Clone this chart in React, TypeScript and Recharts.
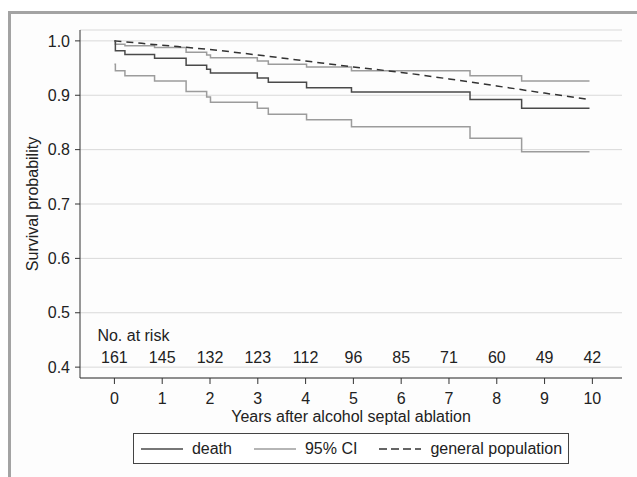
import React from 'react';
import {
  LineChart,
  Line,
  XAxis,
  YAxis,
  CartesianGrid,
  Legend,
  Label,
} from 'recharts';

// years shown on the axis and patients still at risk at each one
const years = [0, 1, 2, 3, 4, 5, 6, 7, 8, 9, 10];
const atRisk = [161, 145, 132, 123, 112, 96, 85, 71, 60, 49, 42];
const yTicks = [0.4, 0.5, 0.6, 0.7, 0.8, 0.9, 1.0];

// Kaplan-Meier steps (event times)
const kmTimes = [0, 0.02, 0.22, 0.84, 1.5, 1.93, 2.01, 2.99, 3.22, 4.02, 4.96, 7.44, 8.52, 9.94];
const deathSurv = [1.0, 0.982, 0.975, 0.968, 0.955, 0.948, 0.941, 0.9315, 0.924, 0.914, 0.906, 0.892, 0.876, 0.876];
const upperCI = [1.0, 0.994, 0.991, 0.988, 0.979, 0.974, 0.969, 0.963, 0.957, 0.952, 0.945, 0.936, 0.926, 0.926];
const lowerCI = [0.957, 0.945, 0.936, 0.926, 0.907, 0.897, 0.887, 0.876, 0.865, 0.855, 0.842, 0.821, 0.796, 0.796];

// expected survival of the general population
const popTimes = [0, 1, 2, 3, 4, 5, 6, 7, 8, 9, 9.94];
const popSurv = [1.0, 0.992, 0.984, 0.974, 0.963, 0.952, 0.942, 0.93, 0.917, 0.904, 0.892];

const FONT = '"Liberation Sans", Arial, sans-serif';
const FS = 16;
const DARK = '#4a4a4a';
const LIGHT = '#9c9c9c';

const deathData = kmTimes.map((t, i) => ({ t, s: deathSurv[i] }));
const upperData = kmTimes.map((t, i) => ({ t, s: upperCI[i] }));
const lowerData = kmTimes.map((t, i) => ({ t, s: lowerCI[i] }));
const popData = popTimes.map((t, i) => ({ t, s: popSurv[i] }));

const XTick = (props: any) => {
  const { x, y, payload } = props;
  const idx = years.indexOf(payload.value);
  return (
    <g style={{ fontFamily: FONT, fontSize: FS }} fill="#222">
      {idx === 0 && (
        <text x={x - 17} y={y - 63} dy="0.71em" textAnchor="start">
          No. at risk
        </text>
      )}
      {idx >= 0 && (
        <text x={x} y={y - 41} dy="0.71em" textAnchor="middle">
          {atRisk[idx]}
        </text>
      )}
      <text x={x} y={y} dy="0.71em" textAnchor="middle">
        {payload.value}
      </text>
    </g>
  );
};

const LegendBox = () => {
  const item = (dash: string | undefined, color: string, text: string, last?: boolean) => (
    <div style={{ display: 'flex', alignItems: 'center', marginRight: last ? 6 : 22 }}>
      <svg width={42} height={4} style={{ marginRight: 9 }}>
        <line x1={0} y1={2} x2={42} y2={2} stroke={color} strokeWidth={1.5} strokeDasharray={dash} />
      </svg>
      <span>{text}</span>
    </div>
  );
  return (
    <div style={{ display: 'flex', justifyContent: 'center' }}>
      <div
        style={{
          display: 'flex',
          alignItems: 'center',
          height: 31,
          boxSizing: 'border-box',
          border: '1px solid #444',
          paddingLeft: 7,
          fontFamily: FONT,
          fontSize: FS,
          color: '#222',
          background: '#fff',
        }}
      >
        {item(undefined, DARK, 'death')}
        {item(undefined, LIGHT, '95% CI')}
        {item('8 4', '#333', 'general population', true)}
      </div>
    </div>
  );
};

const App: React.FC = () => {
  return (
    <div style={{ position: 'absolute', left: 0, top: 0, width: 637, height: 477, background: '#fff' }}>
      <div
        style={{
          position: 'absolute',
          left: 8,
          top: 11,
          width: 640,
          height: 480,
          borderLeft: '3px solid #a3a3a3',
          borderTop: '3px solid #a3a3a3',
          background: '#fdfdfd',
        }}
      />
      <div style={{ position: 'absolute', left: 0, top: 0 }}>
        <LineChart width={637} height={477} margin={{ top: 30, right: 15, left: 10, bottom: 13 }}>
          <CartesianGrid vertical={false} stroke="#d9d9d9" />
          <XAxis
            dataKey="t"
            type="number"
            domain={[-0.72, 10.62]}
            ticks={years}
            allowDataOverflow
            height={55}
            tickSize={6}
            tickMargin={9}
            stroke="#333"
            tick={<XTick />}
          >
            <Label
              content={(p: any) => {
                const vb = p.viewBox || {};
                return (
                  <text
                    x={vb.x + vb.width / 2}
                    y={vb.y + 44}
                    textAnchor="middle"
                    style={{ fontFamily: FONT, fontSize: FS }}
                    fill="#222"
                  >
                    Years after alcohol septal ablation
                  </text>
                );
              }}
            />
          </XAxis>
          <XAxis xAxisId="top" orientation="top" type="number" domain={[-0.72, 10.62]} height={0} tick={false} tickLine={false} stroke="#333" />
          <YAxis
            type="number"
            domain={[0.38, 1.02]}
            ticks={yTicks}
            allowDataOverflow
            width={70}
            tickSize={5}
            tickMargin={5}
            stroke="#333"
            tickFormatter={(v: number) => v.toFixed(1)}
            tick={{ fill: '#222', fontSize: FS, fontFamily: FONT }}
          >
            <Label
              content={(p: any) => {
                const vb = p.viewBox || {};
                const cx = vb.x + 22;
                const cy = vb.y + vb.height / 2;
                return (
                  <text
                    x={cx}
                    y={cy}
                    transform={`rotate(-90 ${cx} ${cy})`}
                    textAnchor="middle"
                    dominantBaseline="central"
                    style={{ fontFamily: FONT, fontSize: FS }}
                    fill="#222"
                  >
                    Survival probability
                  </text>
                );
              }}
            />
          </YAxis>
          <YAxis yAxisId="right" orientation="right" width={0} tick={false} tickLine={false} stroke="#333" />
          <Legend
            verticalAlign="bottom"
            content={<LegendBox />}
            wrapperStyle={{ left: 80, width: 542, height: 31 }}
          />
          <Line data={upperData} dataKey="s" type="stepAfter" stroke={LIGHT} strokeWidth={1.5} dot={false} isAnimationActive={false} legendType="none" />
          <Line data={lowerData} dataKey="s" type="stepAfter" stroke={LIGHT} strokeWidth={1.5} dot={false} isAnimationActive={false} legendType="none" />
          <Line data={popData} dataKey="s" type="monotone" stroke="#333" strokeWidth={1.5} strokeDasharray="7 5" dot={false} isAnimationActive={false} legendType="none" />
          <Line data={deathData} dataKey="s" type="stepAfter" stroke={DARK} strokeWidth={1.5} dot={false} isAnimationActive={false} legendType="none" />
        </LineChart>
      </div>
    </div>
  );
};

export default App;
